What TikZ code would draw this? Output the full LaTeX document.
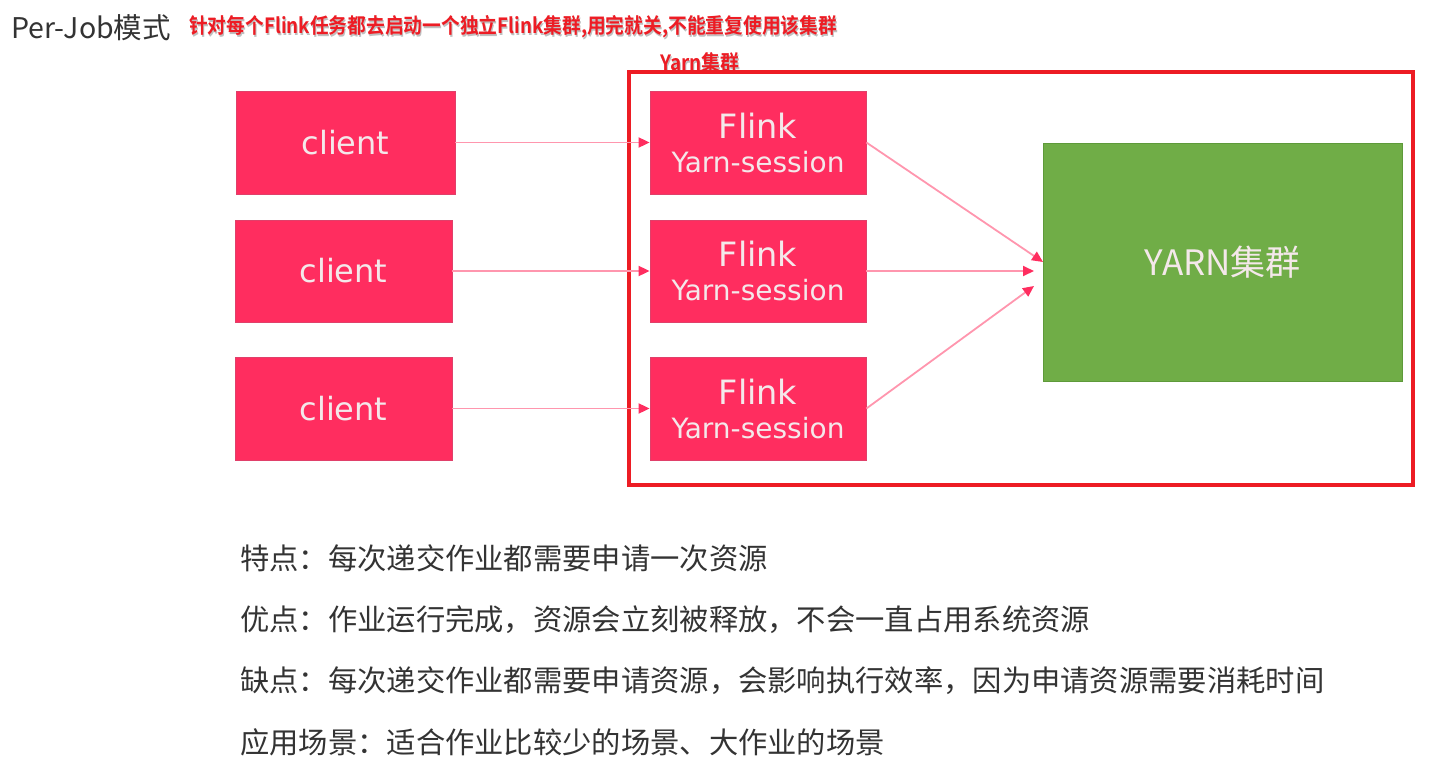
\documentclass[tikz,border=0pt]{standalone}
\usepackage{fontspec}
\usetikzlibrary{arrows.meta}
\newfontfamily\cjk{Noto Sans CJK SC}[BoldFont={Noto Sans CJK SC Bold}]
\newfontfamily\boxfont{DejaVu Sans}
\definecolor{boxpink}{HTML}{FF2D5F}
\definecolor{boxedge}{HTML}{E0406A}
\definecolor{linepink}{HTML}{FF96AE}
\definecolor{yarngreen}{HTML}{70AD47}
\definecolor{yarnedge}{HTML}{5E9A3A}
\definecolor{framered}{HTML}{ED1C24}
\definecolor{bodytext}{HTML}{333333}
\definecolor{boxtext}{HTML}{F4E8EA}
\tikzset{
  pinkbox/.style={draw=boxedge, line width=0.8pt, fill=boxpink, inner sep=0pt, text=boxtext, align=center},
  clientbox/.style={pinkbox, font=\boxfont\fontsize{32}{36}\selectfont},
  flinkbox/.style={pinkbox, minimum width=216pt, font=\boxfont\fontsize{33.5}{35}\selectfont},
  greenbox/.style={draw=yarnedge, line width=1pt, fill=yarngreen, inner sep=0pt, text=boxtext},
  conn/.style={draw=linepink, line width=1.8pt, -{Triangle[length=11pt,width=10pt,color=boxpink]}},
  bodyline/.style={anchor=west, inner sep=0pt, text=bodytext, font=\cjk\fontsize{29.3}{32}\selectfont},
  redhead/.style={inner sep=0pt, text=framered, font=\cjk\bfseries\fontsize{21}{23}\selectfont},
  redshadow/.style={inner sep=0pt, text=black!25, font=\cjk\bfseries\fontsize{21}{23}\selectfont}
}
\newcommand{\flinktext}{Flink\\[-1pt]{\fontsize{28}{30}\selectfont Yarn-session}}
\begin{document}
\begin{tikzpicture}[x=1pt,y=-1pt]
\useasboundingbox (0,0) rectangle (1448,771);
% title
\node[anchor=west, inner sep=0pt, text=bodytext, font=\cjk\fontsize{28.5}{30}\selectfont] (title) at (11,28) {Per-Job模式};
\node[redshadow, anchor=west, xscale=0.893] (headsh) at (190,29) {针对每个Flink任务都去启动一个独立Flink集群,用完就关,不能重复使用该集群};
\node[redhead, anchor=west, xscale=0.893] (head) at (189,27) {针对每个Flink任务都去启动一个独立Flink集群,用完就关,不能重复使用该集群};
\node[redshadow, xscale=0.9] (yclsh) at (701,64) {Yarn集群};
\node[redhead, xscale=0.9] (ycl) at (700,62) {Yarn集群};
% frame
\node[draw=framered, line width=4pt, minimum width=784pt, minimum height=413pt, inner sep=0pt, anchor=north west] (frame) at (627,70) {};
% clients
\node[clientbox, minimum width=219pt, minimum height=103pt] (c1) at (345.5,142.5) {client};
\node[clientbox, minimum width=217pt, minimum height=102pt] (c2) at (343.5,271) {client};
\node[clientbox, minimum width=217pt, minimum height=103pt] (c3) at (343.5,408.5) {client};
% flink
\node[flinkbox, minimum height=103pt] (f1) at (758,142.5) {\flinktext};
\node[flinkbox, minimum height=102pt] (f2) at (758,271) {\flinktext};
\node[flinkbox, minimum height=103pt] (f3) at (758,408.5) {\flinktext};
% yarn
\node[greenbox, minimum width=359pt, minimum height=238pt, font=\cjk\fontsize{35}{38}\selectfont] (yarn) at (1222.5,262) {YARN集群};
\coordinate (y1) at (1043,262);
\coordinate (y2) at (1034,271);
\coordinate (y3) at (1034,286);
% connectors
\draw[conn] (c1.east) -- (f1.west);
\draw[conn] (c2.east) -- (f2.west);
\draw[conn] (c3.east) -- (f3.west);
\draw[conn] (f1.east) -- (y1);
\draw[conn] (f2.east) -- (y2);
\draw[conn] (f3.east) -- (y3);
% body text
\node[bodyline] (l1) at (240,558) {特点：每次递交作业都需要申请一次资源};
\node[bodyline] (l2) at (240,620) {优点：作业运行完成，资源会立刻被释放，不会一直占用系统资源};
\node[bodyline] (l3) at (240,681) {缺点：每次递交作业都需要申请资源，会影响执行效率，因为申请资源需要消耗时间};
\node[bodyline] (l4) at (240,742) {应用场景：适合作业比较少的场景、大作业的场景};
\end{tikzpicture}
\end{document}
